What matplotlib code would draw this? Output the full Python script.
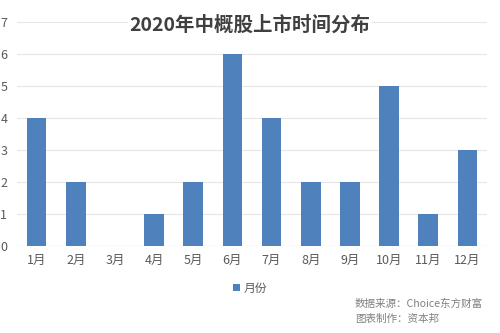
import matplotlib
matplotlib.use("Agg")
from matplotlib import pyplot as plt

plt.rcParams['font.family'] = ['Noto Sans CJK SC', 'DejaVu Sans']

months = ["1月", "2月", "3月", "4月", "5月", "6月",
          "7月", "8月", "9月", "10月", "11月", "12月"]
listings = [4, 2, 0, 1, 2, 6, 4, 2, 2, 5, 1, 3]
series_name = "月份"
title = "2020年中概股上市时间分布"
source_lines = ["数据来源：Choice东方财富", "图表制作：资本邦"]

bar_color = "#4f81bd"
grey = "#595959"

fig = plt.figure(figsize=(5, 3.33), dpi=100)
ax = fig.add_axes([0.034, 0.261, 0.94, 0.673])

x = range(len(months))
ax.bar(x, listings, width=0.5, color=bar_color, label=series_name, zorder=2)

ax.set_xlim(-0.5, len(months) - 0.5)
ax.set_ylim(0, 7)
ax.set_yticks(range(0, 8))
ax.set_xticks(list(x))
ax.set_xticklabels(months)
ax.grid(axis='y', color="#e6e6e6", linewidth=0.8, zorder=0)
for s in ax.spines.values():
    s.set_visible(False)
ax.axhline(0, color="#d9d9d9", linewidth=0.8, zorder=1)
ax.tick_params(axis='both', length=0, colors=grey, labelsize=9)
ax.tick_params(axis='y', pad=7)
ax.tick_params(axis='x', pad=6)

fig.text(0.5, 0.925, title, ha='center', va='center', fontsize=14,
         fontweight='bold', color="#404040",
         bbox=dict(facecolor='white', edgecolor='none', pad=1))

fig.legend(loc='center', bbox_to_anchor=(0.5, 0.135), frameon=False,
           fontsize=8.5, handlelength=0.6, handleheight=0.6,
           handletextpad=0.3, labelcolor=grey)

fig.text(0.71, 0.088, source_lines[0], ha='left', va='center',
         fontsize=7.6, color="#808080")
fig.text(0.71, 0.043, source_lines[1], ha='left', va='center',
         fontsize=7.6, color="#808080")

fig.savefig("out.png", dpi=100)
